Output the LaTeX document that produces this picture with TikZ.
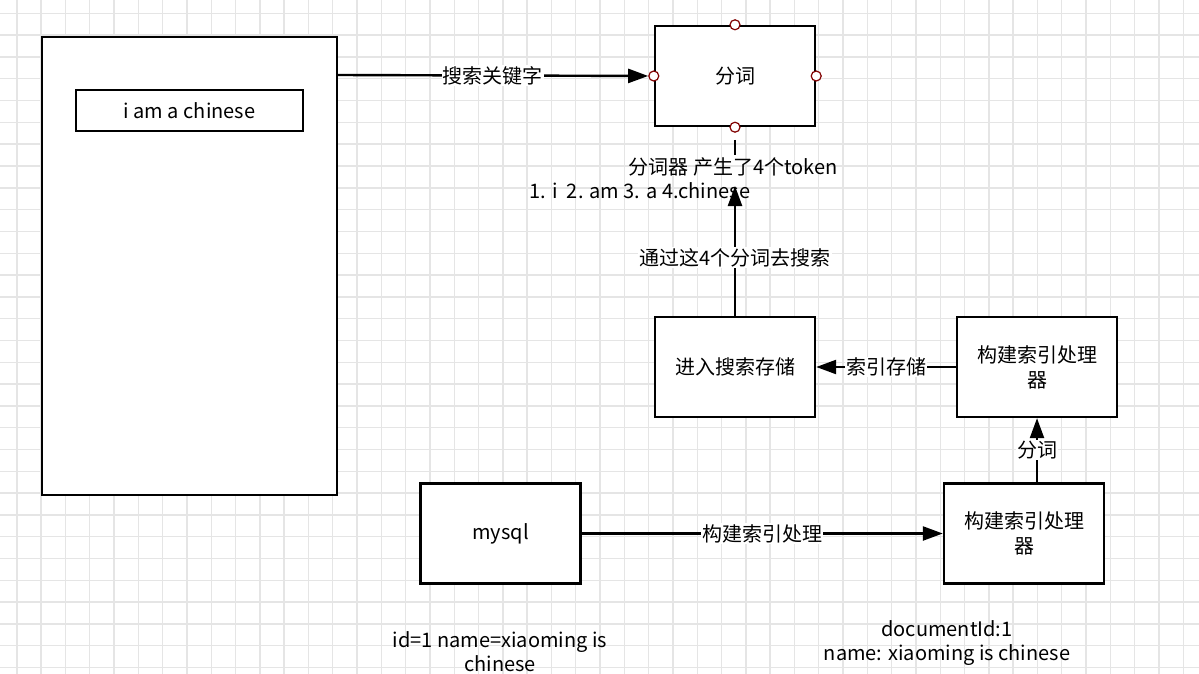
\documentclass[tikz,border=0pt]{standalone}
\usepackage{fontspec}
\setmainfont{Noto Sans CJK SC}
\usetikzlibrary{arrows.meta}
\begin{document}
\begin{tikzpicture}[x=1pt,y=-1pt,
  box/.style={draw, line width=2.4pt, fill=white, minimum width=160pt, minimum height=100pt, align=center, font=\fontsize{20}{25}\selectfont},
  conn/.style={line width=2.4pt, -{Triangle[length=20pt,width=14pt]}},
  lab/.style={fill=white, inner sep=1pt, font=\fontsize{20}{23}\selectfont},
  txt/.style={align=center, font=\fontsize{20}{24}\selectfont},
  port/.style={circle, draw=red!50!black, fill=white, line width=1.2pt, minimum size=10pt, inner sep=0pt}]
\useasboundingbox (0,0) rectangle (1199,674);
% grid
\foreach \i in {0,...,50} {
  \pgfmathsetmacro\gx{357+24.3*(\i-15)}
  \draw[black!10, line width=1.4pt] (\gx,0) -- (\gx,674);
}
\foreach \j in {0,...,32} {
  \pgfmathsetmacro\gy{166+21.8*(\j-7)}
  \draw[black!10, line width=1.4pt] (0,\gy) -- (1199,\gy);
}
% left panel
\node[box, minimum width=295pt, minimum height=458pt] (page) at (189.5,266) {};
\node[draw, line width=2.2pt, fill=white, minimum width=227pt, minimum height=41pt, font=\fontsize{20}{23}\selectfont] (input) at (189.5,110.5) {i am a chinese};
% boxes
\node[box] (fenci) at (735,76) {分词};
\node[box] (store) at (735,367) {进入搜索存储};
\node[box] (build1) at (1037,367) {构建索引处理\\器};
\node[box] (mysql) at (500.5,533.5) {mysql};
\node[box] (build2) at (1024,533.5) {构建索引处理\\器};
% ports
\node[port] at (fenci.north) {};
\node[port] at (fenci.south) {};
\node[port] at (fenci.east) {};
\node[port] (fw) at (fenci.west) {};
% connectors
\coordinate (pe) at (337,75);
\draw[conn] (pe) -- node[lab] {搜索关键字} (fw);
\coordinate (stub) at (735,140);
\coordinate (stubend) at (735,155);
\draw[line width=2.4pt] (stub) -- (stubend);
\coordinate (tip) at (735,186);
\draw[conn] (store.north) -- node[lab, pos=0.45] {通过这4个分词去搜索} (tip);
\node[txt] (t1) at (733,167) {分词器 产生了4个token};
\node[txt] (t2) at (640,191) {1. i\ \ 2. am 3. a 4.chinese};
\draw[conn] (build1.west) -- node[lab] {索引存储} (store.east);
\draw[conn] (mysql.east) -- node[lab] {构建索引处理} (build2.west);
\draw[conn] (build2.north -| build1.south) -- node[lab] {分词} (build1.south);
% notes
\node[txt] (n1) at (500,652) {id=1 name=xiaoming is\\chinese};
\node[txt] (n2) at (947,643) {documentId:1\\name: xiaoming is chinese};
\end{tikzpicture}
\end{document}
